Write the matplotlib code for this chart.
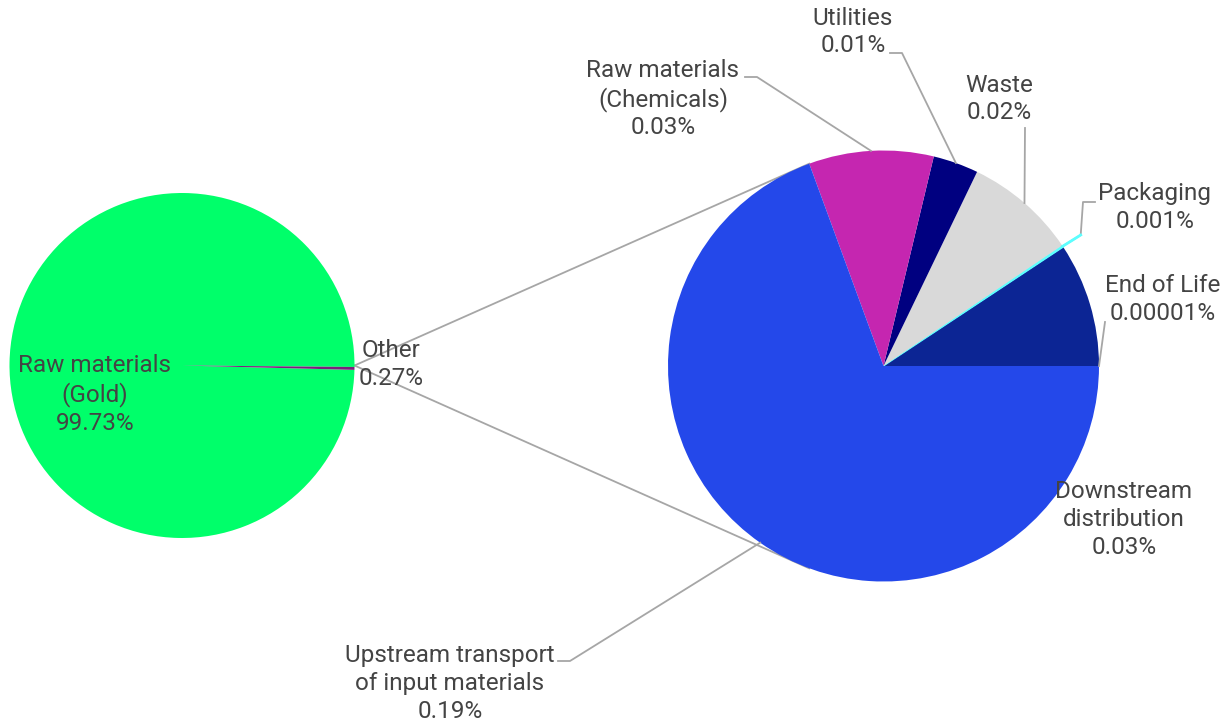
import numpy as np
import matplotlib.pyplot as plt

plt.rcParams['font.family'] = ['Roboto', 'DejaVu Sans']

# total split: gold vs everything else
main_labels = ['Raw materials\n(Gold)', 'Other']
main_pct = ['99.73%', '0.27%']
main_values = [99.73, 0.27]
main_colors = ['#00FF6A', '#7B1F7D']

# breakdown of "Other", counterclockwise from 3 o'clock
sub_labels = ['Downstream\ndistribution', 'Packaging', 'Waste', 'Utilities',
              'Raw materials\n(Chemicals)', 'Upstream transport\nof input materials',
              'End of Life']
sub_pct = ['0.03%', '0.001%', '0.02%', '0.01%', '0.03%', '0.19%', '0.00001%']
sub_share = [9.3, 0.15, 8.4, 3.4, 9.35, 69.4, 0.0]
sub_colors = ['#0C2594', '#5CFFFF', '#D9D9D9', '#000080', '#C526B0', '#2448EA', '#0C2594']

W, H = 1231, 725
TXT = '#444444'
LEAD = '#A6A6A6'
FS = 17.5
LS = 1.26

fig = plt.figure(figsize=(W / 100, H / 100), dpi=100)
ax = fig.add_axes([0, 0, 1, 1])

c1, r1 = (182.0, 359.5), 172.5
c2, r2 = (883.5, 359.0), 215.5

# left pie, "Other" wedge centred on 3 o'clock
ax.pie(main_values, colors=main_colors, center=c1, radius=r1,
       startangle=-main_values[1] / 100 * 360 / 2, counterclock=True,
       wedgeprops=dict(linewidth=0), frame=True)

# right pie
shown = [(s, c) for s, c in zip(sub_share, sub_colors) if s > 0]
wedges, _ = ax.pie([s for s, _ in shown], colors=[c for _, c in shown],
                   center=c2, radius=r2, startangle=0, counterclock=True,
                   wedgeprops=dict(linewidth=0), frame=True)
for w, (_, c) in zip(wedges, shown):
    if c == '#5CFFFF':
        w.set_edgecolor(c)
        w.set_linewidth(0.8)

# connectors from the "Other" wedge tip to the edges of the right pie
tip = (c1[0] + r1, c1[1])
edge_ang = np.deg2rad(360 * (1 - sub_share[5] / 100))
for sgn in (1, -1):
    end = (c2[0] + r2 * np.cos(edge_ang), c2[1] + sgn * r2 * np.sin(edge_ang))
    ax.plot([tip[0], end[0]], [tip[1], end[1]], color=LEAD, lw=1.3, zorder=0.5)

# labels
ax.text(95, 330.5, main_labels[0] + '\n' + main_pct[0], ha='center', va='center',
        fontsize=FS, color=TXT, linespacing=LS)
ax.text(391, 360.5, main_labels[1] + '\n' + main_pct[1], ha='center', va='center',
        fontsize=FS, color=TXT, linespacing=LS)

label_pos = [(1124, 205.5), (1155, 517.5), (999, 626), (853, 693),
             (663, 626), (450, 41.5), (1163, 425.5)]
leader_pts = [[], [(1095, 523), (1083, 523), (1080.7, 490)], [(1025, 597)],
              [(890, 672), (902, 672)], [(745, 648), (757, 648)],
              [(558, 64), (570, 64)], [(1105, 403)]]

bounds = np.concatenate([[0], np.cumsum(sub_share)]) / 100 * 360
for i, (lab, pct) in enumerate(zip(sub_labels, sub_pct)):
    x, y = label_pos[i]
    ax.text(x, y, lab + '\n' + pct, ha='center', va='center',
            fontsize=FS, color=TXT, linespacing=LS)
    pts = leader_pts[i]
    if not pts:
        continue
    mid = np.deg2rad((bounds[i] + bounds[i + 1]) / 2)
    anchor = (c2[0] + r2 * np.cos(mid), c2[1] + r2 * np.sin(mid))
    xs = [p[0] for p in pts] + [anchor[0]]
    ys = [p[1] for p in pts] + [anchor[1]]
    ax.plot(xs, ys, color=LEAD, lw=1.3, zorder=3)
    if sub_colors[i] == '#5CFFFF':
        ax.plot(xs[-2:], ys[-2:], color=sub_colors[i], lw=2, zorder=3.5)

ax.set_xlim(0, W)
ax.set_ylim(0, H)
ax.set_aspect('equal')
ax.axis('off')

fig.savefig('out.png', dpi=100, facecolor='white')
